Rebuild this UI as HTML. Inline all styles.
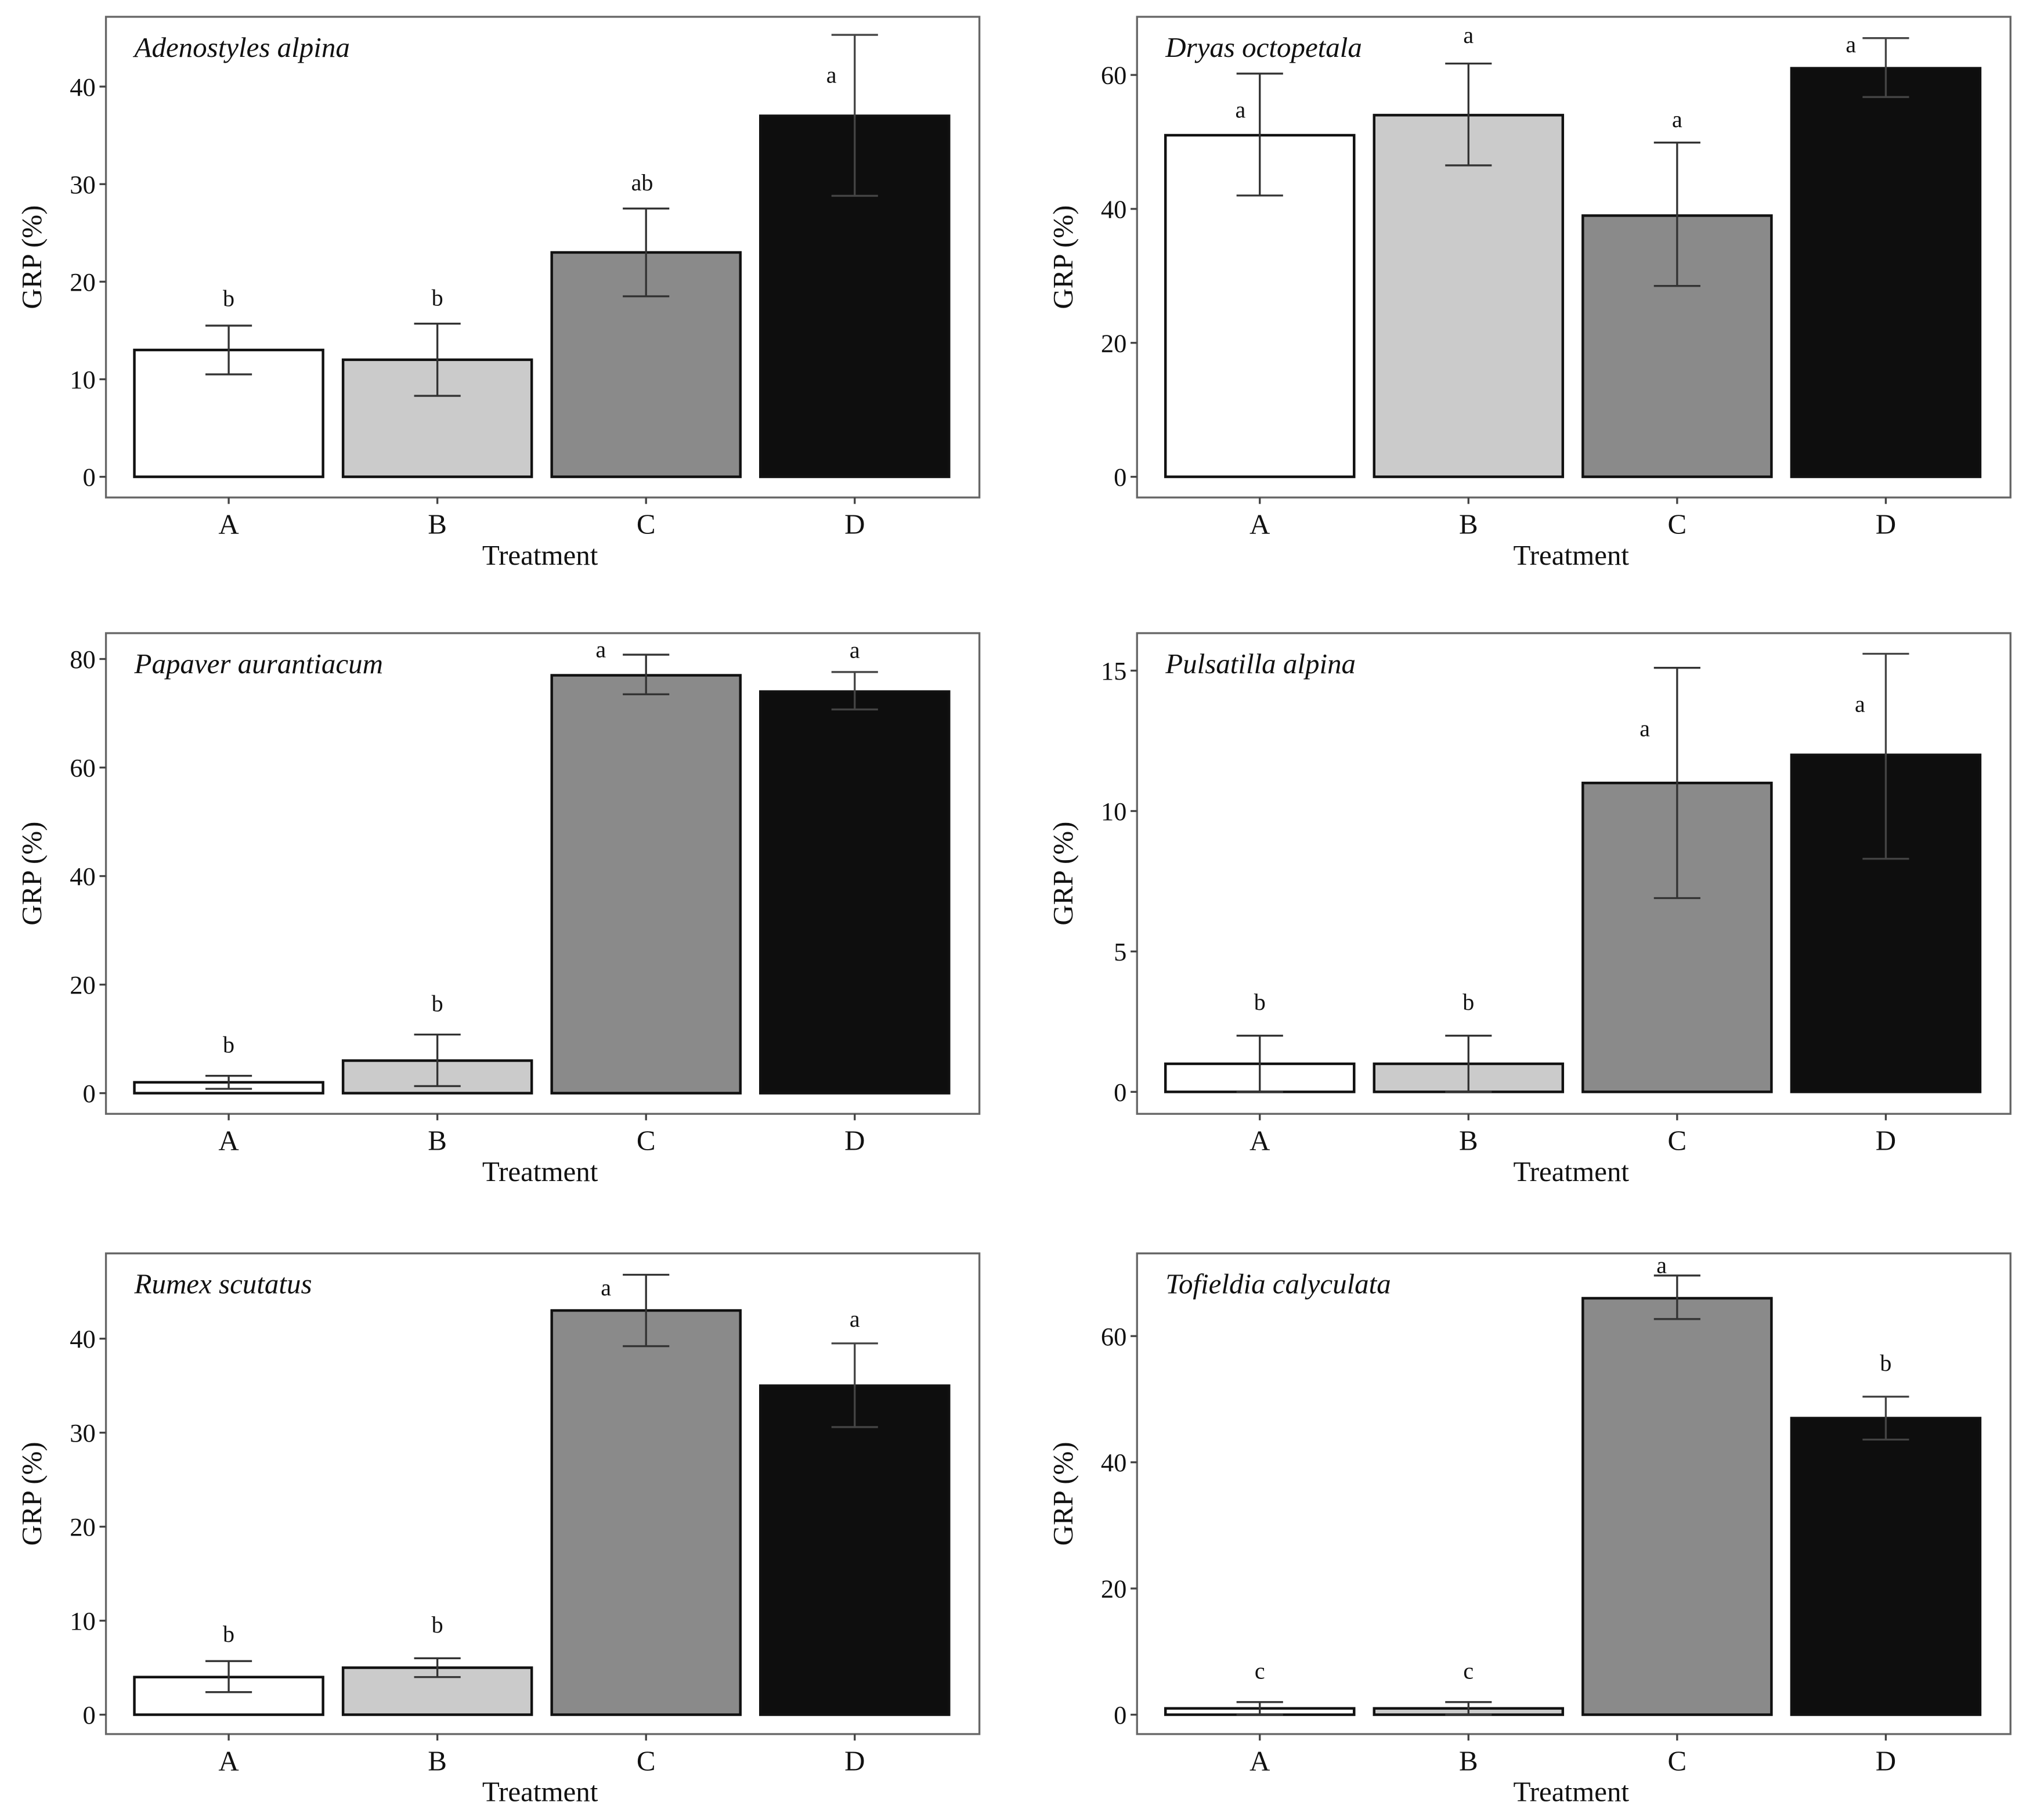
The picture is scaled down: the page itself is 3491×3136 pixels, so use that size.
<!DOCTYPE html>
<html><head><meta charset="utf-8">
<style>
html,body{margin:0;padding:0;background:#fff;}
svg{display:block;}
text{font-family:"Liberation Serif",serif;fill:#111;}
</style></head>
<body>
<svg id="fig" width="3491" height="3136" viewBox="0 0 1568 1408.5" preserveAspectRatio="none" xmlns="http://www.w3.org/2000/svg"></svg>
<script>
// ---- data ----
const categories = ["A","B","C","D"];
const species = ["Adenostyles alpina","Dryas octopetala","Papaver aurantiacum","Pulsatilla alpina","Rumex scutatus","Tofieldia calyculata"];
const means1 = [13,12,23,37];   const lo1 = [10.5,8.3,18.5,28.8]; const hi1 = [15.5,15.7,27.5,45.3];
const means2 = [51,54,39,61];   const lo2 = [42,46.5,28.5,56.7];  const hi2 = [60.2,61.7,49.9,65.5];
const means3 = [2,6,77,74];     const lo3 = [0.8,1.3,73.5,70.7];  const hi3 = [3.2,10.8,80.8,77.6];
const means4 = [1,1,11,12];     const lo4 = [0,0,6.9,8.3];        const hi4 = [2,2,15.1,15.6];
const means5 = [4,5,43,35];     const lo5 = [2.4,4,39.2,30.6];    const hi5 = [5.7,6,46.8,39.5];
const means6 = [1,1,66,47];     const lo6 = [0,0,62.7,43.6];      const hi6 = [2,2,69.6,50.4];
const letters1 = ["b","b","ab","a"];
const letters2 = ["a","a","a","a"];
const letters3 = ["b","b","a","a"];
const letters4 = ["b","b","a","a"];
const letters5 = ["b","b","a","a"];
const letters6 = ["c","c","a","b"];
const ticks1 = [0,10,20,30,40];
const ticks2 = [0,20,40,60];
const ticks3 = [0,20,40,60,80];
const ticks4 = [0,5,10,15];
const ticks5 = [0,10,20,30,40];
const ticks6 = [0,20,40,60];

// ---- layout (not data) ----
const NS="http://www.w3.org/2000/svg";
const svg=document.getElementById('fig');
const fills=["#ffffff","#cbcbcb","#8a8a8a","#0e0e0e"];
function mk(tag,attrs,parent){const e=document.createElementNS(NS,tag);for(const k in attrs)e.setAttribute(k,attrs[k]);(parent||svg).appendChild(e);return e;}

// letter label offsets relative to error-bar top (layout only)
const letterOffsets=[
 [[0,-21],[0,-20],[-3,-20],[-18,31]],
 [[-15,28],[0,-22],[0,-18],[-27,5]],
 [[0,-24],[0,-24],[-35,-4],[0,-17]],
 [[0,-26],[0,-26],[-25,47],[-20,39]],
 [[0,-21],[0,-26],[-31,10],[0,-19]],
 [[0,-24],[0,-24],[-12,-8],[0,-26]]
];

const panels=[
 {m:means1,lo:lo1,hi:hi1,l:letters1,t:ticks1,x0:82,y0:13,zeroY:369,topV:40,topY:67},
 {m:means2,lo:lo2,hi:hi2,l:letters2,t:ticks2,x0:880,y0:13,zeroY:369,topV:60,topY:58},
 {m:means3,lo:lo3,hi:hi3,l:letters3,t:ticks3,x0:82,y0:490,zeroY:846,topV:80,topY:510},
 {m:means4,lo:lo4,hi:hi4,l:letters4,t:ticks4,x0:880,y0:490,zeroY:845,topV:15,topY:519},
 {m:means5,lo:lo5,hi:hi5,l:letters5,t:ticks5,x0:82,y0:970,zeroY:1327,topV:40,topY:1036},
 {m:means6,lo:lo6,hi:hi6,l:letters6,t:ticks6,x0:880,y0:970,zeroY:1327,topV:60,topY:1034}
];
const W=676,H=372;

panels.forEach((p,pi)=>{
  const g=mk('g',{});
  
  
  const y=v=>p.zeroY-(v/p.topV)*(p.zeroY-p.topY);
  const xc=i=>p.x0+95+i*161.5;
  const bw=146;
  const fr=mk('rect',{x:p.x0,y:p.y0,width:W,height:H,fill:'none',stroke:'#666','stroke-width':1.5},g);
  
  
  const tt=mk('text',{x:p.x0+22,y:p.y0+31,'font-size':22,'font-style':'italic'},g);
  tt.textContent=species[pi];
  
  
  p.t.forEach(v=>{
    mk('line',{x1:p.x0-5,x2:p.x0,y1:y(v),y2:y(v),stroke:'#444','stroke-width':1.5},g);
    const tl=mk('text',{x:p.x0-8,y:y(v)+7,'font-size':20,'text-anchor':'end'},g);
    tl.textContent=v;
    
    
  });
  const cy=p.y0+H/2;
  const yt=mk('text',{x:0,y:0,'font-size':22,'text-anchor':'middle',transform:`translate(${p.x0-50},${cy}) rotate(-90)`},g);
  yt.textContent='GRP (%)';
  
  
  const xt=mk('text',{x:p.x0+336,y:p.y0+H+52,'font-size':22,'text-anchor':'middle'},g);
  xt.textContent='Treatment';
  
  
  categories.forEach((c,i)=>{
    const cx=xc(i);
    mk('line',{x1:cx,x2:cx,y1:p.y0+H,y2:p.y0+H+5,stroke:'#444','stroke-width':1.5},g);
    const xl=mk('text',{x:cx,y:p.y0+H+28,'font-size':22,'text-anchor':'middle'},g);
    xl.textContent=c;
    
    
    const b=mk('rect',{x:cx-bw/2,y:y(p.m[i]),width:bw,height:y(0)-y(p.m[i]),fill:fills[i],stroke:'#111','stroke-width':2},g);
    
    
    const eg=mk('g',{stroke:i===3?'#444':'#333','stroke-width':1.5},g);
    
    
    mk('line',{x1:cx,x2:cx,y1:y(p.lo[i]),y2:y(p.hi[i])},eg);
    mk('line',{x1:cx-18,x2:cx+18,y1:y(p.lo[i]),y2:y(p.lo[i])},eg);
    mk('line',{x1:cx-18,x2:cx+18,y1:y(p.hi[i]),y2:y(p.hi[i])},eg);
    const off=letterOffsets[pi][i];
    const lt=mk('text',{x:cx+off[0],y:y(p.hi[i])+off[1]+6,'font-size':18,'text-anchor':'middle'},g);
    lt.textContent=p.l[i];
    
    
  });
});
</script>
</body></html>
